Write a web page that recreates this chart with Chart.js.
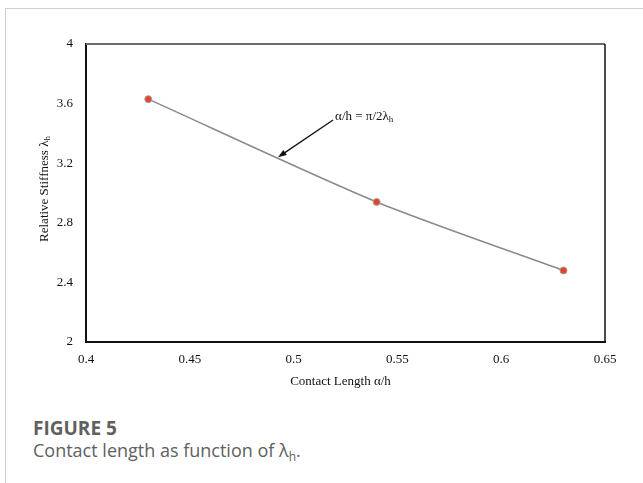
<!DOCTYPE html>
<html>
<head>
<meta charset="utf-8">
<script src="https://cdn.jsdelivr.net/npm/chart.js@4"></script>
<style>
  body { margin: 0; background: #fff; }
  #wrap { position: relative; width: 643px; height: 483px; overflow: hidden; }
  #frame { position: absolute; left: 5px; top: 8px; right: 0; bottom: 0;
           border-left: 1px solid #cfcfcf; border-top: 1px solid #cfcfcf; }
  #chartBox { position: absolute; left: 0; top: 0; width: 643px; height: 400px; }
  .cap { position: absolute; left: 33px; font-family: "Open Sans", sans-serif; color: #606060; }
  #figNo { top: 415px; font-size: 19px; font-weight: 700; }
  #figText { top: 438px; font-size: 18px; }
  #figText sub { font-size: 12px; vertical-align: -4px; }
</style>
</head>
<body>
<div id="wrap">
  <div id="frame"></div>
  <div id="chartBox"><canvas id="curveCanvas" width="643" height="400"></canvas></div>
  <div class="cap" id="figNo">FIGURE 5</div>
  <div class="cap" id="figText">Contact length as function of λ<sub>h</sub>.</div>
</div>
<script>
var contactLength = [0.43, 0.54, 0.63];
var stiffness = [3.63, 2.94, 2.48];
var xTitle = "Contact Length \u03b1/h";
var yTitle = "Relative Stiffness \u03bb";
var noteText = "\u03b1/h = \u03c0/2\u03bb";
// annotation arrow in data units
var arrowFrom = [0.519, 3.49];
var arrowTo = [0.4925, 3.24];
var notePos = [0.52, 3.51];

var serif = "'Liberation Serif', 'Times New Roman', serif";

var points = [];
for (var i = 0; i < contactLength.length; i++) {
	points.push({x: contactLength[i], y: stiffness[i]});
}

var extras = {
	id: 'extras',
	afterDraw: function(chart) {
		var ctx = chart.ctx;
		var a = chart.chartArea;
		var xs = chart.scales.x, ys = chart.scales.y;
		ctx.save();
		// top and right frame
		ctx.strokeStyle = '#6b6b6b';
		ctx.lineWidth = 2;
		ctx.beginPath();
		ctx.moveTo(a.left, a.top);
		ctx.lineTo(a.right, a.top);
		ctx.stroke();
		ctx.strokeStyle = '#111';
		ctx.lineWidth = 1.5;
		ctx.beginPath();
		ctx.moveTo(a.right, a.top);
		ctx.lineTo(a.right, a.bottom);
		ctx.stroke();

		ctx.fillStyle = '#111';
		// x title
		ctx.font = '13px ' + serif;
		ctx.textAlign = 'center';
		ctx.textBaseline = 'middle';
		ctx.fillText(xTitle, (a.left + a.right) / 2 - 5, a.bottom + 40);

		// y title with subscript
		ctx.save();
		ctx.translate(45, (a.top + a.bottom) / 2 - 4);
		ctx.rotate(-Math.PI / 2);
		ctx.font = '13px ' + serif;
		var w1 = ctx.measureText(yTitle).width;
		ctx.font = '9px ' + serif;
		var w2 = ctx.measureText('h').width;
		ctx.textAlign = 'left';
		ctx.font = '13px ' + serif;
		ctx.fillText(yTitle, -(w1 + w2) / 2, 0);
		ctx.font = '9px ' + serif;
		ctx.fillText('h', -(w1 + w2) / 2 + w1, 3);
		ctx.restore();

		// annotation
		ctx.font = '13px ' + serif;
		ctx.textAlign = 'left';
		var nx = xs.getPixelForValue(notePos[0]), ny = ys.getPixelForValue(notePos[1]);
		ctx.fillText(noteText, nx, ny);
		var nw = ctx.measureText(noteText).width;
		ctx.font = '9px ' + serif;
		ctx.fillText('h', nx + nw, ny + 3);

		var x1 = xs.getPixelForValue(arrowFrom[0]), y1 = ys.getPixelForValue(arrowFrom[1]);
		var x2 = xs.getPixelForValue(arrowTo[0]), y2 = ys.getPixelForValue(arrowTo[1]);
		var ang = Math.atan2(y2 - y1, x2 - x1);
		ctx.strokeStyle = '#111';
		ctx.lineWidth = 1.3;
		ctx.beginPath();
		ctx.moveTo(x1, y1);
		ctx.lineTo(x2 - 6 * Math.cos(ang), y2 - 6 * Math.sin(ang));
		ctx.stroke();
		ctx.fillStyle = '#111';
		ctx.beginPath();
		ctx.moveTo(x2, y2);
		ctx.lineTo(x2 - 9 * Math.cos(ang - 0.35), y2 - 9 * Math.sin(ang - 0.35));
		ctx.lineTo(x2 - 9 * Math.cos(ang + 0.35), y2 - 9 * Math.sin(ang + 0.35));
		ctx.closePath();
		ctx.fill();
		ctx.restore();
	}
};

var ctx = document.getElementById('curveCanvas').getContext('2d');
var chart = new Chart(ctx, {
	type: 'scatter',
	data: {
		datasets: [{
			data: points,
			showLine: true,
			tension: 0.25,
			borderColor: '#8a8a8a',
			borderWidth: 1.5,
			pointRadius: 3.5,
			pointBackgroundColor: '#e5432b',
			pointBorderColor: '#a0a0a0',
			pointBorderWidth: 1
		}]
	},
	options: {
		responsive: false,
		animation: false,
		layout: { padding: { left: 0, top: 44, right: 38, bottom: 0 } },
		plugins: { legend: { display: false }, tooltip: { enabled: false } },
		scales: {
			x: {
				type: 'linear', min: 0.4, max: 0.65,
				grid: { display: false, drawTicks: false },
				border: { color: '#111', width: 2 },
				ticks: {
					stepSize: 0.05, padding: 10, color: '#111',
					font: { family: serif, size: 13 },
					callback: function(v) { return parseFloat(v.toFixed(2)).toString(); }
				},
				afterFit: function(s) { s.height = 58; }
			},
			y: {
				min: 2, max: 4,
				grid: { display: false, drawTicks: false },
				border: { color: '#111', width: 2 },
				ticks: {
					stepSize: 0.4, padding: 13, color: '#111',
					font: { family: serif, size: 13 },
					callback: function(v) { return parseFloat(v.toFixed(1)).toString(); }
				},
				afterFit: function(s) { s.width = 86; }
			}
		}
	},
	plugins: [extras]
});
</script>
</body>
</html>
